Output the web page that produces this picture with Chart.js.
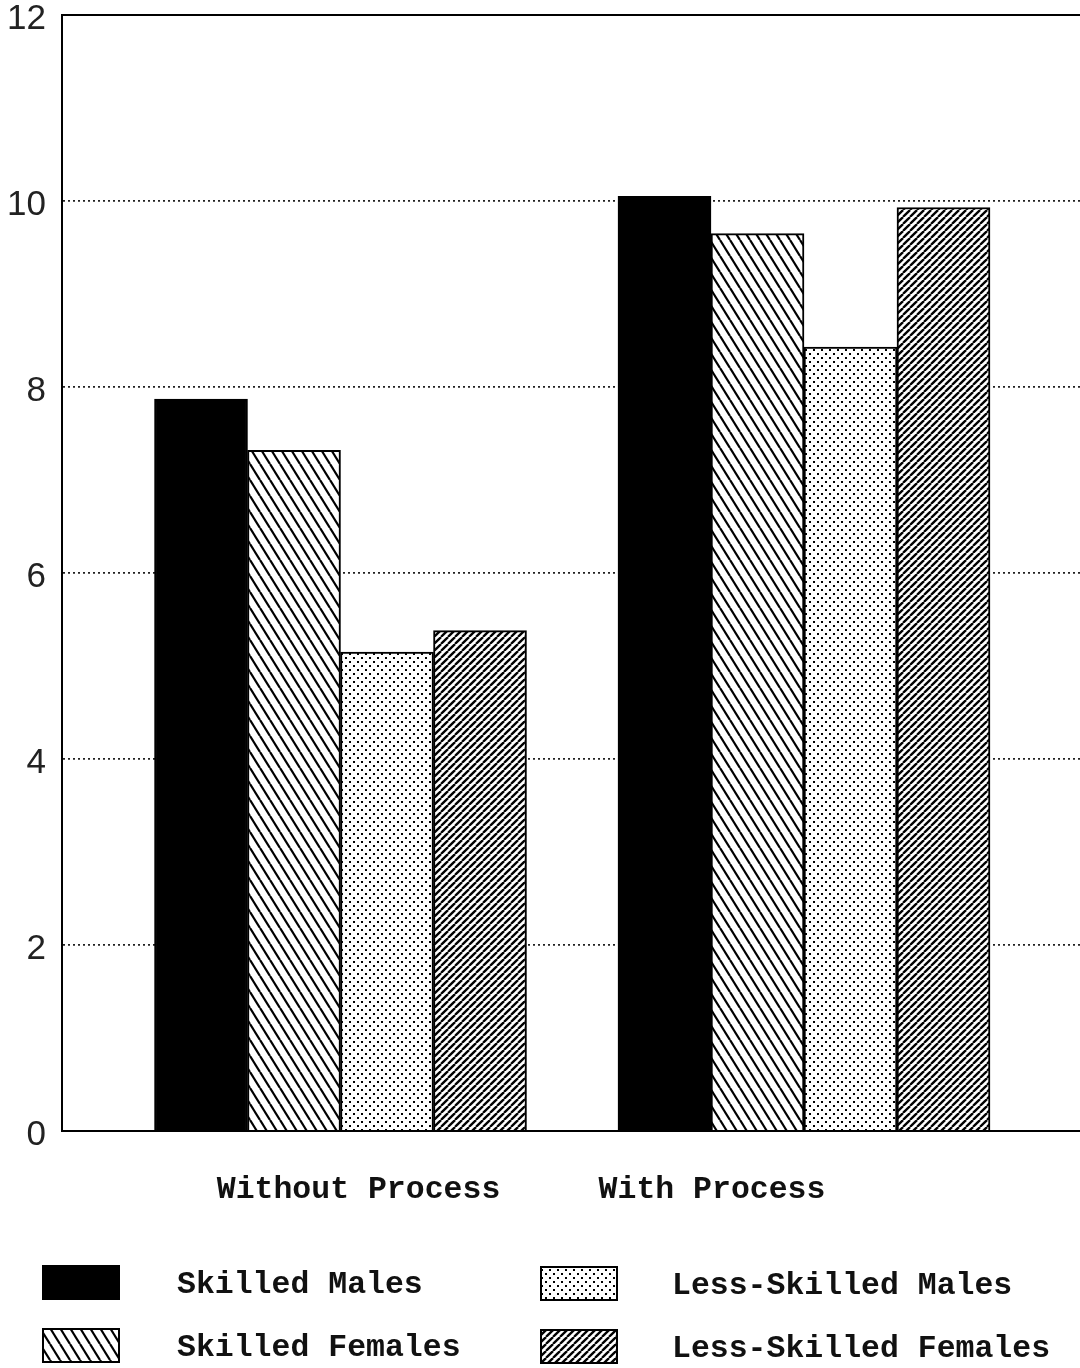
<!DOCTYPE html>
<html>
<head>
<meta charset="utf-8">
<script src="https://cdn.jsdelivr.net/npm/chart.js@4.4.0/dist/chart.umd.min.js"></script>
<style>
  html, body { margin: 0; padding: 0; background: #fff; }
</style>
</head>
<body>
<canvas id="barChart" width="1080" height="1368"></canvas>
<script>
const groups = ['Without Process', 'With Process'];
const seriesNames = ['Skilled Males', 'Skilled Females', 'Less-Skilled Males', 'Less-Skilled Females'];
const skilledMales = [7.87, 10.05];
const skilledFemales = [7.32, 9.65];
const lessSkilledMales = [5.15, 8.43];
const lessSkilledFemales = [5.38, 9.93];
const yTicks = [0, 2, 4, 6, 8, 10, 12];

const monoFont = "'Liberation Mono', 'DejaVu Sans Mono', monospace";
const numFont = "'Liberation Sans Narrow', 'Liberation Sans', sans-serif";

// black and white fill patterns like the old printout
function makePattern(w, h, draw) {
    const c = document.createElement('canvas');
    c.width = w;
    c.height = h;
    const g = c.getContext('2d');
    g.fillStyle = '#fff';
    g.fillRect(0, 0, w, h);
    g.strokeStyle = '#000';
    g.fillStyle = '#000';
    draw(g, w, h);
    return g.createPattern(c, 'repeat');
}

const backHatch = makePattern(10, 16, (g, w, h) => {
    g.lineWidth = 2.2;
    [-w, 0, w].forEach(dx => {
        g.beginPath();
        g.moveTo(dx, 0);
        g.lineTo(dx + w, h);
        g.stroke();
    });
});

const dots = makePattern(8, 8, (g) => {
    g.fillRect(1, 1, 2, 2);
    g.fillRect(5, 5, 2, 2);
});

const fwdHatch = makePattern(7, 7, (g, w, h) => {
    g.lineWidth = 2.3;
    [-w, 0, w].forEach(dx => {
        g.beginPath();
        g.moveTo(dx, h);
        g.lineTo(dx + w, 0);
        g.stroke();
    });
});

const fills = ['#000', backHatch, dots, fwdHatch];
const seriesValues = [skilledMales, skilledFemales, lessSkilledMales, lessSkilledFemales];

// legend slots: box x, box y, text x
const legendSlots = [[42, 1265, 177], [42, 1328, 177], [540, 1266, 672], [540, 1329, 672]];

const legendPlugin = {
    id: 'paperLegend',
    afterDraw(chart) {
        const ctx = chart.ctx;
        ctx.save();
        chart.data.datasets.forEach((ds, i) => {
            const [bx, by, tx] = legendSlots[i];
            ctx.fillStyle = ds.backgroundColor;
            ctx.fillRect(bx, by, 78, 35);
            ctx.lineWidth = 2;
            ctx.strokeStyle = '#000';
            ctx.strokeRect(bx + 1, by + 1, 76, 33);
            ctx.fillStyle = '#111';
            ctx.font = `bold 31.5px ${monoFont}`;
            ctx.textBaseline = 'middle';
            ctx.fillText(ds.label, tx, by + 20);
        });
        ctx.restore();
    }
};

new Chart(document.getElementById('barChart'), {
    type: 'bar',
    data: {
        datasets: seriesNames.map((name, s) => ({
            label: name,
            xAxisID: 'x',
            data: groups.map((g, i) => ({ x: i, y: seriesValues[s][i] })),
            backgroundColor: fills[s],
            borderColor: '#000',
            borderWidth: 2,
            barThickness: 93
        }))
    },
    options: {
        responsive: false,
        animation: false,
        devicePixelRatio: 1,
        layout: { padding: 0 },
        plugins: {
            legend: { display: false },
            tooltip: { enabled: false }
        },
        scales: {
            x: {
                type: 'linear',
                display: false,
                offset: false,
                min: -0.6009,
                max: 1.5955
            },
            xl: {
                type: 'linear',
                position: 'bottom',
                offset: false,
                min: -0.8388,
                max: 2.041,
                grid: { display: false },
                border: { display: true, color: '#000', width: 2 },
                afterBuildTicks: s => { s.ticks = groups.map((g, i) => ({ value: i })); },
                ticks: {
                    callback: v => groups[v],
                    autoSkip: false,
                    maxRotation: 0,
                    padding: 32,
                    color: '#111',
                    font: { family: monoFont, size: 31.5, weight: 'bold' }
                },
                afterFit: s => { s.height = 237; s.paddingLeft = 0; s.paddingRight = 0; }
            },
            xt: {
                type: 'linear',
                position: 'top',
                offset: false,
                grid: { display: false },
                ticks: { display: false },
                border: { display: true, color: '#000', width: 2 },
                afterFit: s => { s.height = 15; s.paddingLeft = 0; s.paddingRight = 0; }
            },
            y: {
                min: 0,
                max: 12,
                afterBuildTicks: s => { s.ticks = yTicks.map(v => ({ value: v })); },
                grid: {
                    drawTicks: false,
                    lineWidth: 1.8,
                    color: c => (c.tick && (c.tick.value === 0 || c.tick.value === 12)) ? 'rgba(0,0,0,0)' : '#222'
                },
                border: { display: true, color: '#000', width: 2, dash: [2, 3] },
                ticks: {
                    padding: 16,
                    labelOffset: 4,
                    color: '#222',
                    font: { family: numFont, size: 35, weight: 'normal' }
                },
                afterFit: s => { s.width = 62; s.paddingTop = 0; s.paddingBottom = 0; }
            }
        }
    },
    plugins: [legendPlugin]
});
</script>
</body>
</html>
